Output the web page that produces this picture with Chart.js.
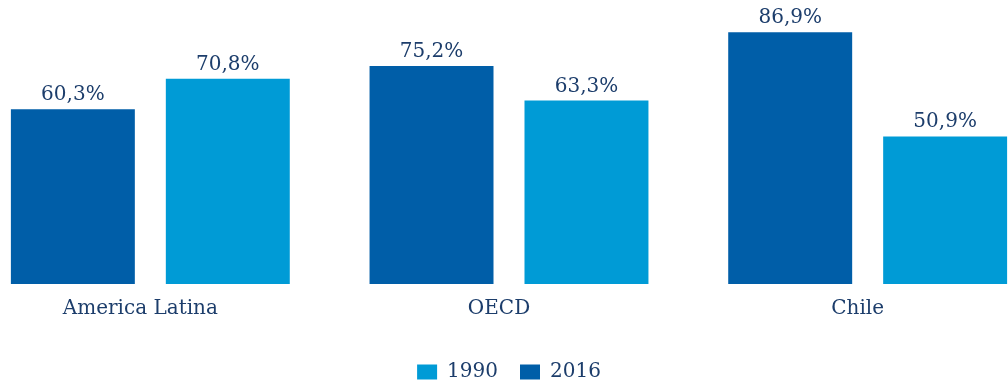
<!DOCTYPE html>
<html>
<head>
<meta charset="utf-8">
<script src="https://cdn.jsdelivr.net/npm/chart.js@4/dist/chart.umd.min.js"></script>
<style>
    html, body { margin: 0; padding: 0; background: #fff; overflow: hidden; }
    #wrap { position: absolute; left: -29px; top: 0; width: 1076px; height: 385px; }
</style>
</head>
<body>
<div id="wrap"><canvas id="myChart"></canvas></div>
<script>
const regioni = ['America Latina', 'OECD', 'Chile'];
const anni = ['2016', '1990'];
const valori2016 = [60.3, 75.2, 86.9];
const valori1990 = [70.8, 63.3, 50.9];

const coloreScuro = '#005ea8';
const coloreChiaro = '#009bd6';
const coloreTesto = '#1c3d6b';
const fontTesto = '"DejaVu Serif", serif';

function formatPercent(v) {
    return v.toFixed(1).replace('.', ',') + '%';
}

// scrive il valore sopra ogni barra
const etichetteValori = {
    id: 'etichetteValori',
    afterDatasetsDraw(chart) {
        const ctx = chart.ctx;
        ctx.save();
        ctx.font = '20px ' + fontTesto;
        ctx.fillStyle = coloreTesto;
        ctx.textAlign = 'center';
        ctx.textBaseline = 'alphabetic';
        chart.data.datasets.forEach((ds, i) => {
            chart.getDatasetMeta(i).data.forEach((bar, j) => {
                ctx.fillText(formatPercent(ds.data[j]), bar.x, bar.y - 9);
            });
        });
        ctx.restore();
    }
};

const ctx = document.getElementById('myChart').getContext('2d');
new Chart(ctx, {
    type: 'bar',
    data: {
        labels: regioni,
        datasets: [{
            label: anni[0],
            data: valori2016,
            backgroundColor: coloreScuro
        }, {
            label: anni[1],
            data: valori1990,
            backgroundColor: coloreChiaro
        }]
    },
    options: {
        responsive: true,
        maintainAspectRatio: false,
        animation: false,
        layout: { padding: { top: 0, bottom: -7 } },
        datasets: {
            bar: { categoryPercentage: 0.864, barPercentage: 0.8 }
        },
        scales: {
            x: {
                offset: true,
                grid: { display: false },
                border: { display: false },
                // spazio in più tra le etichette e la legenda
                afterFit(scale) {
                    scale.height += 14;
                },
                ticks: {
                    color: coloreTesto,
                    padding: 5,
                    labelOffset: -10,
                    font: { family: fontTesto, size: 20 }
                }
            },
            y: {
                display: false,
                min: 0,
                max: 98
            }
        },
        plugins: {
            tooltip: { enabled: false },
            legend: {
                position: 'bottom',
                reverse: true,
                labels: {
                    color: coloreTesto,
                    boxWidth: 20,
                    boxHeight: 15,
                    padding: 22,
                    font: { family: fontTesto, size: 20 }
                }
            }
        }
    },
    plugins: [etichetteValori]
});
</script>
</body>
</html>
